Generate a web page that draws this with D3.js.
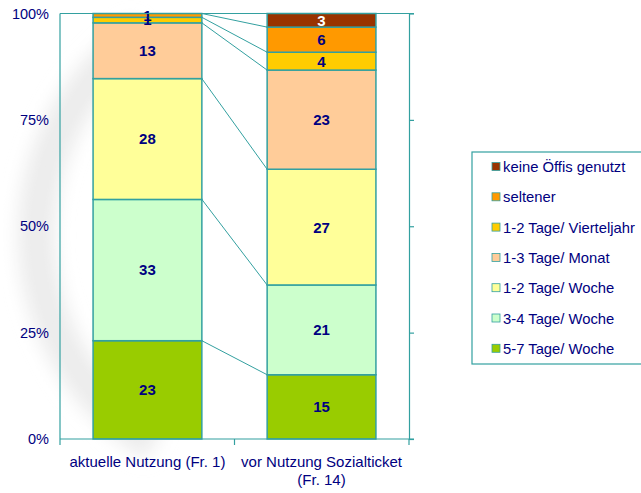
<!DOCTYPE html>
<html>
<head>
<meta charset="utf-8">
<script src="https://cdn.jsdelivr.net/npm/d3@7"></script>
<style>
  body { margin: 0; background: #fff; }
  svg { display: block; font-family: "Liberation Sans", Arial, sans-serif; }
</style>
</head>
<body>
<svg id="chart"></svg>
<script>
// categories (bars) and the series stacked in each bar, bottom to top
const categories = ["aktuelle Nutzung (Fr. 1)", "vor Nutzung Sozialticket (Fr. 14)"];
const categoryLines = [["aktuelle Nutzung (Fr. 1)"], ["vor Nutzung Sozialticket", "(Fr. 14)"]];
const seriesNames = ["5-7 Tage/ Woche", "3-4 Tage/ Woche", "1-2 Tage/ Woche", "1-3 Tage/ Monat",
                     "1-2 Tage/ Vierteljahr", "seltener", "keine Öffis genutzt"];
const seriesColors = ["#99CC00", "#CCFFCC", "#FFFF99", "#FFCC99", "#FFCC00", "#FF9900", "#993300"];
// percent values per series: [aktuelle Nutzung, vor Nutzung]
const valuesAktuell = [23.1, 33.2, 28.4, 13.1, 1.3, 0.9, 0];
const valuesVor     = [15.1, 21.1, 27.2, 23.3, 4.2, 5.9, 3.2];
const yTicks = [0, 0.25, 0.5, 0.75, 1];

const width = 641, height = 493;
const margin = { top: 13.5, right: 232, bottom: 54, left: 60 };
const teal = "#33A0A0";
const navy = "#000080";

const svg = d3.select("#chart")
    .attr("width", width)
    .attr("height", height)
    .attr("viewBox", [0, 0, width, height]);

// faint background swoosh
const defs = svg.append("defs");
defs.append("filter").attr("id", "blur")
    .append("feGaussianBlur").attr("stdDeviation", 9);
svg.append("path")
    .attr("transform", "translate(280,235)")
    .attr("d", d3.arc()({ innerRadius: 225, outerRadius: 262, startAngle: -2.6, endAngle: -0.6 }))
    .attr("fill", "#ececec")
    .attr("filter", "url(#blur)");

const table = seriesNames.map((name, i) => ({
    name,
    [categories[0]]: valuesAktuell[i],
    [categories[1]]: valuesVor[i]
}));
// stack per category: transpose so each category is a row
const rows = categories.map(c => {
    const row = { category: c };
    seriesNames.forEach((s, i) => row[s] = table[i][c]);
    return row;
});
const stacked = d3.stack().keys(seriesNames).offset(d3.stackOffsetExpand)(rows);

const x = d3.scaleBand()
    .domain(categories)
    .range([margin.left, width - margin.right])
    .paddingInner(0.375)
    .paddingOuter(0.19);

const y = d3.scaleLinear()
    .domain([0, 1])
    .range([height - margin.bottom, margin.top]);

const color = d3.scaleOrdinal().domain(seriesNames).range(seriesColors);

const x0 = margin.left, x1 = width - margin.right;

// connector lines between bars at each series boundary
const boundaries = stacked.slice(0, -1).map(layer => layer.map(d => d[1]));
svg.append("g")
    .selectAll("line")
    .data(boundaries)
    .join("line")
    .attr("x1", x(categories[0]) + x.bandwidth())
    .attr("x2", x(categories[1]))
    .attr("y1", d => y(d[0]))
    .attr("y2", d => y(d[1]))
    .attr("stroke", teal)
    .attr("stroke-width", 1);

// bars
const layer = svg.append("g")
    .selectAll("g")
    .data(stacked)
    .join("g")
    .attr("fill", d => color(d.key));

layer.selectAll("rect")
    .data(d => d)
    .join("rect")
    .attr("x", d => x(d.data.category))
    .attr("y", d => y(d[1]))
    .attr("width", x.bandwidth())
    .attr("height", d => y(d[0]) - y(d[1]))
    .attr("stroke", teal)
    .attr("stroke-width", 1.5);

// value labels
layer.selectAll("text")
    .data(d => d.map(v => ({ key: d.key, v })))
    .join("text")
    .filter(d => Math.round(d.v.data[d.key]) > 0)
    .attr("x", d => x(d.v.data.category) + x.bandwidth() / 2)
    .attr("y", d => (y(d.v[0]) + y(d.v[1])) / 2)
    .attr("dy", "0.36em")
    .attr("text-anchor", "middle")
    .attr("fill", d => d.key === "keine Öffis genutzt" ? "#fff" : navy)
    .style("font-weight", "bold")
    .style("font-size", "15px")
    .text(d => d3.format(".0f")(d.v.data[d.key]));

// frame: left and top
const frame = svg.append("g").attr("stroke", teal).attr("stroke-width", 1.2).attr("fill", "none");
frame.append("line").attr("x1", x0).attr("x2", x0).attr("y1", y(1)).attr("y2", y(0));
frame.append("line").attr("x1", x0).attr("x2", x1 + 5).attr("y1", y(1)).attr("y2", y(1));

// left axis labels (no ticks)
svg.append("g")
    .attr("transform", `translate(${x0},0)`)
    .call(d3.axisLeft(y).tickValues(yTicks).tickFormat(d3.format(".0%")).tickSize(0).tickPadding(11))
    .call(g => g.select(".domain").remove())
    .call(g => g.selectAll("text")
        .attr("fill", navy)
        .style("font-family", "Liberation Sans, Arial, sans-serif")
        .style("font-size", "14.5px"));

// right axis with outward ticks, no labels
svg.append("g")
    .attr("transform", `translate(${x1},0)`)
    .call(d3.axisRight(y).tickValues(yTicks).tickFormat("").tickSize(5).tickSizeOuter(0))
    .call(g => g.select(".domain").attr("stroke", teal).attr("stroke-width", 1.2))
    .call(g => g.selectAll(".tick line").attr("stroke", teal).attr("stroke-width", 1.2));

// bottom axis with category separators
const bottom = svg.append("g").attr("transform", `translate(0,${y(0)})`);
bottom.append("line").attr("x1", x0).attr("x2", x1 + 5)
    .attr("stroke", teal).attr("stroke-width", 1.2);
const sepX = [x0, (x(categories[0]) + x.bandwidth() + x(categories[1])) / 2, x1];
bottom.selectAll(".sep")
    .data(sepX)
    .join("line")
    .attr("class", "sep")
    .attr("x1", d => d).attr("x2", d => d)
    .attr("y1", 0).attr("y2", 6)
    .attr("stroke", teal).attr("stroke-width", 1.2);
bottom.selectAll(".cat")
    .data(categories)
    .join("text")
    .attr("class", "cat")
    .attr("x", d => x(d) + x.bandwidth() / 2)
    .attr("text-anchor", "middle")
    .attr("fill", navy)
    .style("font-size", "15px")
    .selectAll("tspan")
    .data((d, i) => categoryLines[i])
    .join("tspan")
    .attr("x", function () { return this.parentNode.getAttribute("x"); })
    .attr("y", (d, i) => 28 + i * 18)
    .text(d => d);

// legend
const legend = svg.append("g").attr("transform", "translate(472,152)");
legend.append("rect")
    .attr("width", 175).attr("height", 212)
    .attr("fill", "#fff")
    .attr("stroke", teal).attr("stroke-width", 1.2);
const items = legend.selectAll(".item")
    .data(seriesNames.slice().reverse())
    .join("g")
    .attr("class", "item")
    .attr("transform", (d, i) => `translate(20,${15 + i * 30.3})`);
items.append("rect")
    .attr("y", -4.5)
    .attr("width", 8).attr("height", 8)
    .attr("fill", d => color(d))
    .attr("stroke", teal).attr("stroke-width", 0.8);
items.append("text")
    .attr("x", 11)
    .attr("dy", "0.35em")
    .attr("fill", navy)
    .style("font-size", "14.8px")
    .text(d => d);
</script>
</body>
</html>
